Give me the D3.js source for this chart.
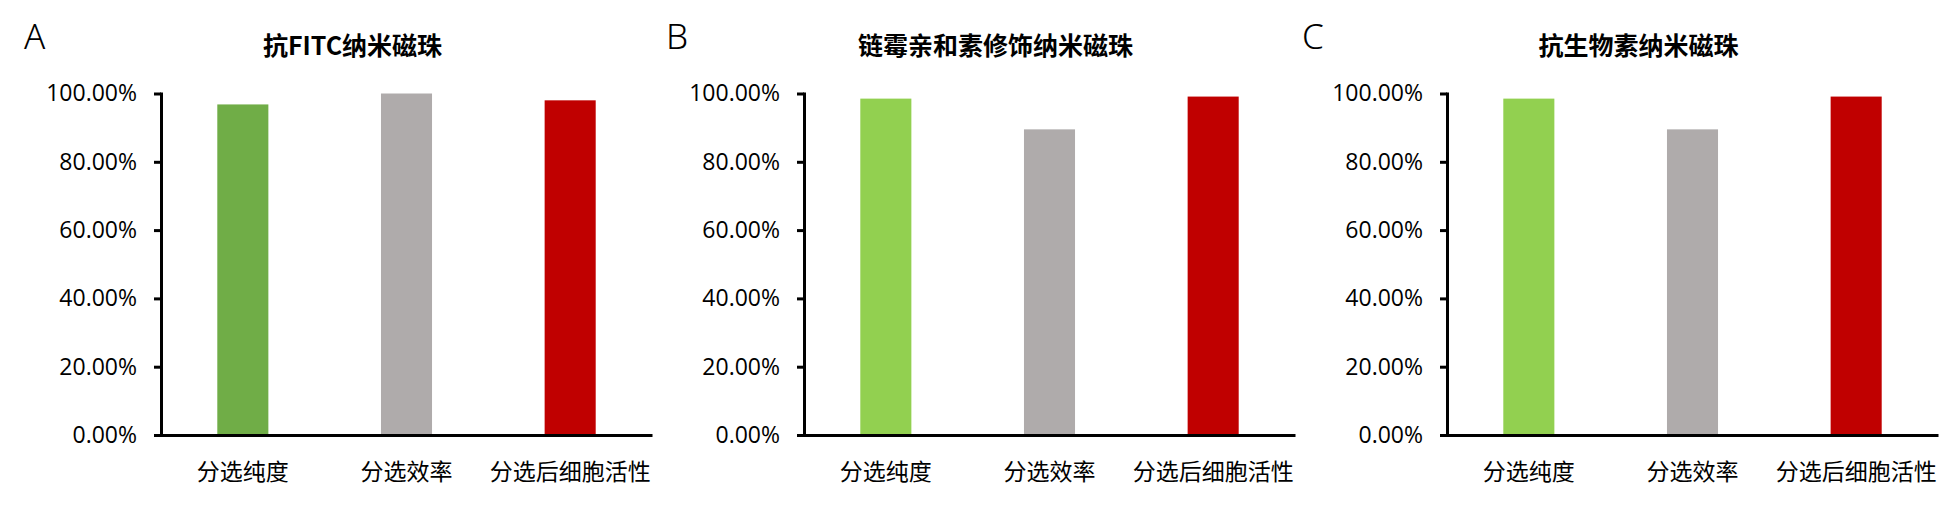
<!DOCTYPE html>
<html>
<head>
<meta charset="utf-8">
<script src="https://cdn.jsdelivr.net/npm/d3@7"></script>
<style>
  html, body { margin: 0; padding: 0; background: #fff; }
  svg { display: block; }
</style>
</head>
<body>
<svg id="chart" width="1958" height="505"></svg>
<script>
// ---- data ----
const categories = ["分选纯度", "分选效率", "分选后细胞活性"];
const panelLetters = ["A", "B", "C"];
const panelTitles = ["抗FITC纳米磁珠", "链霉亲和素修饰纳米磁珠", "抗生物素纳米磁珠"];
const valuesA = [0.968, 1.000, 0.980];
const valuesB = [0.985, 0.895, 0.991];
const valuesC = [0.985, 0.895, 0.991];
const colorsA = ["#70AD47", "#AFABAB", "#C00000"];
const colorsB = ["#92D050", "#AFABAB", "#C00000"];
const colorsC = ["#92D050", "#AFABAB", "#C00000"];
const yTicks = [0, 0.2, 0.4, 0.6, 0.8, 1.0];

(function () {
const panels = [
  { letter: panelLetters[0], title: panelTitles[0], values: valuesA, colors: colorsA, left: 161, letterX: 24 },
  { letter: panelLetters[1], title: panelTitles[1], values: valuesB, colors: colorsB, left: 804, letterX: 666 },
  { letter: panelLetters[2], title: panelTitles[2], values: valuesC, colors: colorsC, left: 1447, letterX: 1302 }
];

const svg = d3.select("#chart");
const plotW = 491, plotTop = 93.5, plotBottom = 435;
const cjk = "'Noto Sans CJK SC', 'Noto Sans', sans-serif";
const num = "'Open Sans', 'Noto Sans', sans-serif";

panels.forEach(p => {
  const g = svg.append("g");
  const x = d3.scaleBand().domain(categories).range([p.left, p.left + plotW])
    .paddingInner(0.688).paddingOuter(0.344);
  const y = d3.scaleLinear().domain([0, 1]).range([plotBottom, plotTop]);

  // bars
  g.selectAll("rect.bar").data(p.values).enter().append("rect")
    .attr("class", "bar")
    .attr("x", (d, i) => x(categories[i]))
    .attr("width", x.bandwidth())
    .attr("y", d => y(d))
    .attr("height", d => y(0) - y(d))
    .attr("fill", (d, i) => p.colors[i]);

  // y axis
  const ya = g.append("g").attr("transform", `translate(${p.left},0)`)
    .call(d3.axisLeft(y).tickValues(yTicks).tickSize(7).tickSizeOuter(0).tickPadding(17)
      .tickFormat(d3.format(".2%")));
  ya.select(".domain").attr("stroke", "#000").attr("stroke-width", 3).attr("stroke-linecap", "square");
  ya.selectAll(".tick line").attr("stroke", "#000").attr("stroke-width", 3);
  ya.selectAll(".tick text").attr("font-family", num).attr("font-size", 23).attr("fill", "#000");

  // x axis
  const xa = g.append("g").attr("transform", `translate(0,${plotBottom})`)
    .call(d3.axisBottom(x).tickSize(0).tickSizeOuter(0).tickPadding(29));
  xa.select(".domain").attr("stroke", "#000").attr("stroke-width", 3);
  xa.selectAll(".tick text").attr("font-family", cjk).attr("font-size", 23).attr("fill", "#000");

  // title
  g.append("text")
    .attr("x", p.left + plotW / 2 - 54)
    .attr("y", 54.5)
    .attr("text-anchor", "middle")
    .attr("font-family", cjk)
    .attr("font-weight", "bold")
    .attr("font-size", 25)
    .attr("fill", "#000")
    .text(p.title);

  // panel letter
  g.append("text")
    .attr("x", p.letterX)
    .attr("y", 49)
    .attr("font-family", "'Noto Sans', sans-serif")
    .attr("font-weight", 300)
    .attr("font-size", 35)
    .attr("fill", "#000")
    .text(p.letter);
});
})();
</script>
</body>
</html>
